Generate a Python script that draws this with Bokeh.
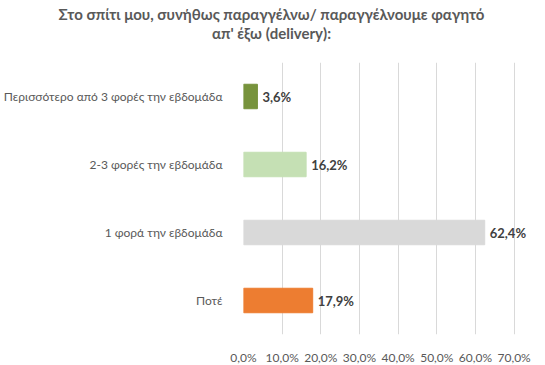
from bokeh.plotting import figure
from bokeh.models import ColumnDataSource, FixedTicker, Div
from bokeh.layouts import column
from bokeh.core.properties import value
from bokeh.embed import file_html
from bokeh.resources import INLINE

categories = ["Περισσότερο από 3 φορές την εβδομάδα", "2-3 φορές την εβδομάδα",
              "1 φορά την εβδομάδα", "Ποτέ"]
values = [3.6, 16.2, 62.4, 17.9]
value_labels = ["3,6%", "16,2%", "62,4%", "17,9%"]
colors = ["#77933C", "#C5E0B4", "#D9D9D9", "#ED7D31"]
tick_values = [0, 10, 20, 30, 40, 50, 60, 70]
tick_labels = ["0,0%", "10,0%", "20,0%", "30,0%", "40,0%", "50,0%", "60,0%", "70,0%"]
title_lines = ["Στο σπίτι μου, συνήθως παραγγέλνω/ παραγγέλνουμε φαγητό",
               "απ' έξω (delivery):"]

FONT = "Lato"
GRAY = "#595959"

src = ColumnDataSource(dict(cat=categories, val=values, lab=value_labels, col=colors))

title = Div(text="<br>".join(title_lines), width=529, height=44,
            styles={"font-family": FONT, "font-size": "15px", "font-weight": "bold",
                    "color": GRAY, "text-align": "center", "line-height": "19px",
                    "padding-left": "4px", "box-sizing": "border-box"})

p = figure(frame_width=288, frame_height=272, y_range=list(reversed(categories)),
           x_range=(0, 74.5), output_backend="svg", toolbar_location=None,
           min_border_left=237, min_border_right=4, min_border_top=8, min_border_bottom=25)
p.outline_line_color = None

p.hbar(y="cat", right="val", left=0, height=0.36, color="col", source=src)
p.text(x="val", y="cat", text="lab", source=src, x_offset=5, text_baseline="middle",
       text_align="left", text_font=value(FONT), text_font_size="13px",
       text_font_style="bold", text_color="#404040")

p.xaxis.ticker = FixedTicker(ticks=tick_values)
p.xaxis.major_label_overrides = {v: l for v, l in zip(tick_values, tick_labels)}
for ax in (p.xaxis, p.yaxis):
    ax.axis_line_color = None
    ax.major_tick_line_color = None
    ax.minor_tick_line_color = None
    ax.major_label_text_font = FONT
    ax.major_label_text_font_size = "12px"
    ax.major_label_text_color = GRAY
p.yaxis.major_label_standoff = 15
p.xaxis.major_label_standoff = 9

p.ygrid.grid_line_color = None
p.xgrid.grid_line_color = "#D9D9D9"

layout = column(title, p, spacing=0)
open("out.html", "w").write(file_html(layout, INLINE))
